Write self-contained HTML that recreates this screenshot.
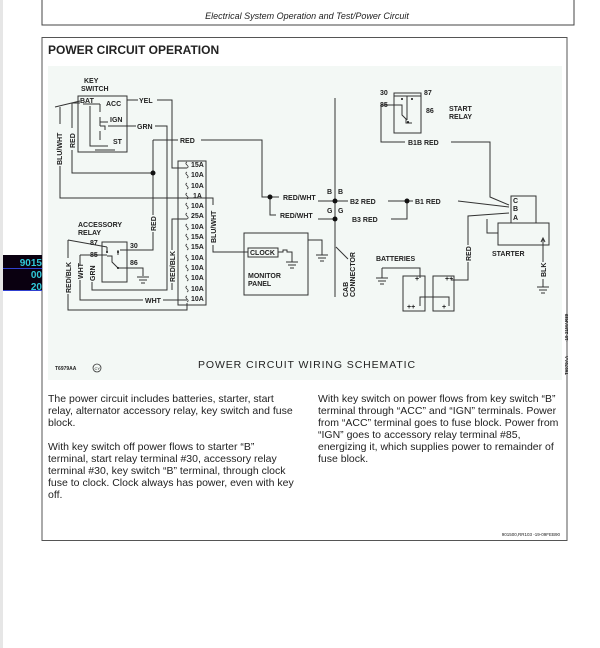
<!DOCTYPE html>
<html><head><meta charset="utf-8"><style>
body{margin:0;background:#fff;width:600px;height:648px;overflow:hidden}
svg{display:block}
text{font-family:"Liberation Sans",sans-serif;fill:#222}
.l{font-size:7px;font-weight:bold}
.p{font-size:10.5px;fill:#222}
</style></head><body>
<svg width="600" height="648" viewBox="0 0 600 648" xmlns="http://www.w3.org/2000/svg">
<rect x="0" y="0" width="3" height="648" fill="#e6e6e6"/>
<path d="M42 0V25H574V0" fill="none" stroke="#444" stroke-width="1"/>
<text x="307" y="19" text-anchor="middle" font-size="9" font-style="italic">Electrical System Operation and Test/Power Circuit</text>
<rect x="42" y="37.5" width="525" height="503" fill="#fff" stroke="#555" stroke-width="1"/>
<text x="48" y="54" font-size="12" font-weight="bold">POWER CIRCUIT OPERATION</text>
<rect x="48" y="66" width="514" height="314" fill="#f3f8f5"/>
<rect x="3" y="255" width="39" height="36" fill="#0a0010"/>
<line x1="3" y1="268.5" x2="42" y2="268.5" stroke="#3040d0"/>
<line x1="3" y1="290.5" x2="42" y2="290.5" stroke="#3040d0"/>
<g font-size="10" font-weight="bold" text-anchor="end">
<text x="42" y="266" style="fill:#30c8d8">9015</text><text x="42" y="278" style="fill:#30c8d8">00</text><text x="42" y="290" style="fill:#30c8d8">20</text></g>

<g fill="none" stroke="#333" stroke-width="1">
<rect x="78" y="96" width="49" height="56"/>
<path d="M83 104H100M100 104V112M100 117V126M100 131V140M90 106V146H100M100 122H108M100 126H105V130M100 146H108M95 150H115"/>
<path d="M127 100H138M157 100H172V168H187"/>
<path d="M108 126H136M155 126H167V290H92V282"/>
<path d="M153 140H178M201 140H262V197H270M270 197V215H276M270 197H279"/>
<path d="M153 140V215M153 232V250H120"/>
<path d="M72 103H80M72 103V128M72 150V173H153"/>
<path d="M55 107L80 101M60 107V124M60 166V198H188M188 198H213V205M213 245V252H248"/>
<rect x="178" y="161" width="28" height="144"/>
<path d="M187 219H172V250M172 283V290"/>
<rect x="102" y="242" width="25" height="40"/>
<path d="M68 240L107 247M107 247V252M107 256H112V262L118 268H127M120 250H153M118 255V250M127 268H143V276"/>
<path d="M137 277H149M139 280H147M141 283H145"/>
<path d="M68 240V258M68 294V310H187V303"/>
<path d="M80 255H107M80 255V265M80 280V300H143M163 300H187"/>
<rect x="244" y="233" width="64" height="62"/>
<rect x="248" y="248" width="30" height="9"/>
<path d="M278 252H283V250H287V252H292V262M286 262H298M288 265H296M290 268H294"/>
<path d="M308 240H322V255M316 255H328M318 258H326M320 261H324"/>
<path d="M335 98V297M336 247L348 259"/>
<path d="M318 201H335M318 219H335"/>
<path d="M335 201H348M388 201H413M391 219H407V201M458 201L509 207"/>
<rect x="394" y="93" width="27" height="40"/>
<path d="M394 96H421M407 96V120M381 105H402V115L406 119V123H412M381 105V142H405M451 142H490V197L509 205"/>
<rect x="511" y="196" width="25" height="27"/>
<rect x="498" y="223" width="51" height="22"/>
<path d="M509 213L468 216V245M468 262V280H451M487 219V233H498"/>
<path d="M543 238V262M543 279V287M537 287H549M539 290H547M541 293H545"/>
<path d="M541 242L543 238L545 242"/>
<rect x="403" y="276" width="22" height="35"/>
<rect x="433" y="276" width="21" height="35"/>
<path d="M382 268H420V278M382 268V278M376 278H388M378 281H386M380 284H384M420 306V297H449V306"/>
</g>
<g fill="#111">
<circle cx="153" cy="173" r="2.5"/><circle cx="270" cy="197" r="2.5"/>
<circle cx="335" cy="201" r="2.5"/><circle cx="335" cy="219" r="2.5"/><circle cx="407" cy="201" r="2.5"/>
<circle cx="402" cy="99" r="1"/><circle cx="412" cy="99" r="1"/><circle cx="408" cy="122" r="1"/>
<circle cx="107" cy="252" r="1"/><circle cx="118" cy="252" r="1"/><circle cx="118" cy="268" r="1"/>
</g>
<g class="l">
<text x="84" y="83" class="l">KEY</text><text x="81" y="91" class="l">SWITCH</text>
<text x="80" y="103" class="l" font-size="6">BAT</text><text x="106" y="106" class="l" font-size="6">ACC</text>
<text x="110" y="122" class="l" font-size="6">IGN</text><text x="113" y="144" class="l" font-size="6">ST</text>
<text x="139" y="103" class="l">YEL</text><text x="137" y="129" class="l">GRN</text>
<text x="180" y="143" class="l">RED</text>
<text x="283" y="200" class="l">RED/WHT</text><text x="280" y="218" class="l">RED/WHT</text>
<text x="78" y="227" class="l">ACCESSORY</text><text x="78" y="235" class="l">RELAY</text>
<text x="90" y="245" class="l">87</text><text x="90" y="257" class="l">85</text>
<text x="130" y="248" class="l">30</text><text x="130" y="265" class="l">86</text>
<text x="145" y="303" class="l">WHT</text>
<text x="250" y="255" class="l">CLOCK</text>
<text x="248" y="278" class="l">MONITOR</text><text x="248" y="286" class="l">PANEL</text>
<text x="327" y="194" class="l">B</text><text x="338" y="194" class="l">B</text>
<text x="327" y="213" class="l">G</text><text x="338" y="213" class="l">G</text>
<text x="350" y="204" class="l">B2 RED</text><text x="352" y="222" class="l">B3 RED</text>
<text x="415" y="204" class="l">B1 RED</text>
<text x="408" y="145" class="l">B1B RED</text>
<text x="380" y="95" class="l">30</text><text x="424" y="95" class="l">87</text>
<text x="380" y="107" class="l">85</text><text x="426" y="113" class="l">86</text>
<text x="449" y="111" class="l">START</text><text x="449" y="119" class="l">RELAY</text>
<text x="513" y="203" class="l" font-size="6">C</text><text x="513" y="211" class="l" font-size="6">B</text><text x="513" y="220" class="l" font-size="6">A</text>
<text x="492" y="256" class="l">STARTER</text>
<text x="376" y="261" class="l">BATTERIES</text>
<text x="415" y="281" class="l" font-size="5">+</text><text x="445" y="281" class="l" font-size="5">++</text>
<text x="407" y="309" class="l" font-size="5">++</text><text x="442" y="309" class="l" font-size="5">+</text>
</g>
<g class="l" font-size="6.5">
<text x="191" y="167" class="l">15A</text><text x="191" y="177" class="l">10A</text><text x="191" y="188" class="l">10A</text>
<text x="193" y="198" class="l">1A</text><text x="191" y="208" class="l">10A</text><text x="191" y="218" class="l">25A</text>
<text x="191" y="229" class="l">10A</text><text x="191" y="239" class="l">15A</text><text x="191" y="249" class="l">15A</text>
<text x="191" y="260" class="l">10A</text><text x="191" y="270" class="l">10A</text><text x="191" y="280" class="l">10A</text>
<text x="191" y="291" class="l">10A</text><text x="191" y="301" class="l">10A</text>
</g>
<g fill="none" stroke="#333" stroke-width="0.8">
<path d="M187 162c-4 2 4 4 0 6M187 172c-4 2 4 4 0 6M187 183c-4 2 4 4 0 6M187 193c-4 2 4 4 0 6M187 203c-4 2 4 4 0 6M187 213c-4 2 4 4 0 6M187 224c-4 2 4 4 0 6M187 234c-4 2 4 4 0 6M187 244c-4 2 4 4 0 6M187 255c-4 2 4 4 0 6M187 265c-4 2 4 4 0 6M187 275c-4 2 4 4 0 6M187 286c-4 2 4 4 0 6M187 296c-4 2 4 4 0 6"/>
</g>
<g class="l">
<text class="l" transform="translate(62,165) rotate(-90)">BLU/WHT</text>
<text class="l" transform="translate(75,148) rotate(-90)">RED</text>
<text class="l" transform="translate(156,231) rotate(-90)">RED</text>
<text class="l" transform="translate(216,243) rotate(-90)">BLU/WHT</text>
<text class="l" transform="translate(175,282) rotate(-90)">RED/BLK</text>
<text class="l" transform="translate(71,293) rotate(-90)">RED/BLK</text>
<text class="l" transform="translate(83,279) rotate(-90)">WHT</text>
<text class="l" transform="translate(95,281) rotate(-90)">GRN</text>
<text class="l" transform="translate(348,297) rotate(-90)">CAB</text>
<text class="l" transform="translate(355,297) rotate(-90)">CONNECTOR</text>
<text class="l" transform="translate(471,261) rotate(-90)">RED</text>
<text class="l" transform="translate(546,277) rotate(-90)">BLK</text>
<text transform="translate(568,342) rotate(-90)" font-size="4.5">-19-21MAR89</text>
<text transform="translate(568,375) rotate(-90)" font-size="4.5">T6979AA</text>
</g>
<text x="198" y="368" font-size="10.5" letter-spacing="0.9">POWER CIRCUIT WIRING SCHEMATIC</text>
<text x="55" y="370" font-size="5" font-weight="bold">T6979AA</text>
<circle cx="97" cy="368" r="4" fill="none" stroke="#333" stroke-width="0.8"/>
<text x="94.5" y="370" font-size="4">CY</text>
<g class="p">
<text x="48" y="402" class="p">The power circuit includes batteries, starter, start</text>
<text x="48" y="414" class="p">relay, alternator accessory relay, key switch and fuse</text>
<text x="48" y="426" class="p">block.</text>
<text x="48" y="450" class="p">With key switch off power flows to starter “B”</text>
<text x="48" y="462" class="p">terminal, start relay terminal #30, accessory relay</text>
<text x="48" y="474" class="p">terminal #30, key switch “B” terminal, through clock</text>
<text x="48" y="486" class="p">fuse to clock. Clock always has power, even with key</text>
<text x="48" y="498" class="p">off.</text>
<text x="318" y="402" class="p">With key switch on power flows from key switch “B”</text>
<text x="318" y="414" class="p">terminal through “ACC” and “IGN” terminals. Power</text>
<text x="318" y="426" class="p">from “ACC” terminal goes to fuse block. Power from</text>
<text x="318" y="438" class="p">“IGN” goes to accessory relay terminal #85,</text>
<text x="318" y="450" class="p">energizing it, which supplies power to remainder of</text>
<text x="318" y="462" class="p">fuse block.</text>
</g>
<text x="560" y="536" font-size="4.5" text-anchor="end">901500,RR103   -19-09FEB90</text>
</svg>
</body></html>
